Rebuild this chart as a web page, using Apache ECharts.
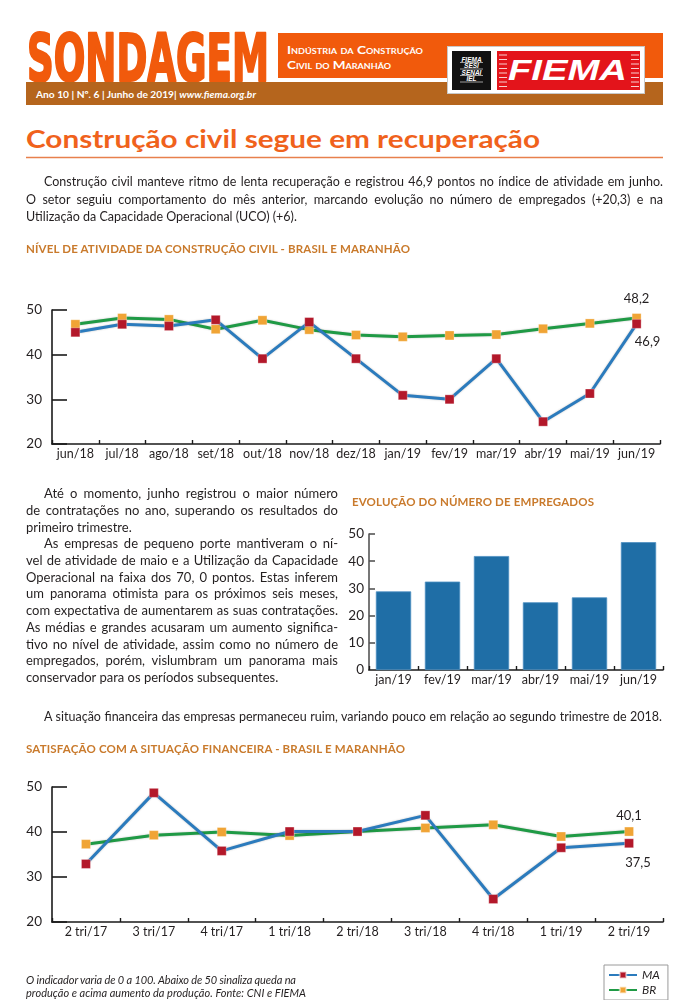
<!DOCTYPE html>
<html><head><meta charset="utf-8">
<script src="https://cdn.jsdelivr.net/npm/echarts@6/dist/echarts.min.js"></script>
<style>
html,body{margin:0;padding:0;background:#fff;}
body{width:684px;height:1000px;position:relative;overflow:hidden;font-family:Lato,'Noto Sans',sans-serif;color:#231f20;}
#hdr{position:absolute;left:0;top:0;z-index:0;}
#chart{position:absolute;left:0;top:0;width:684px;height:1000px;z-index:1;}
.t{position:absolute;white-space:nowrap;line-height:16px;z-index:2;}
.p1{font-size:12.5px;}
.pc{font-size:13px;}
.h{font-size:11.5px;font-weight:700;color:#c97a2c;}
.fn{font-size:11px;font-style:italic;line-height:13px;}
</style></head>
<body>
<svg id="hdr" width="684" height="170" xmlns="http://www.w3.org/2000/svg">
  <text x="27" y="80.5" font-family="DejaVu Sans Condensed" font-weight="bold" font-size="65" fill="#f15a0c" stroke="#f15a0c" stroke-width="2.2" stroke-linejoin="round" textLength="242" lengthAdjust="spacingAndGlyphs">SONDAGEM</text>
  <rect x="278" y="33" width="385" height="45" fill="#f15a0c"/>
  <rect x="26" y="82" width="637" height="23" fill="#b5651d"/>
  <text x="287" y="54" font-family="Lato" font-weight="bold" font-size="12" fill="#fff" style="font-variant:small-caps" textLength="136" lengthAdjust="spacingAndGlyphs">Indústria da Construção</text>
  <text x="287" y="69" font-family="Lato" font-weight="bold" font-size="12" fill="#fff" style="font-variant:small-caps" textLength="104" lengthAdjust="spacingAndGlyphs">Civil do Maranhão</text>
  <text x="36" y="98" font-family="Lato" font-weight="bold" font-size="10" fill="#fff" textLength="220" lengthAdjust="spacingAndGlyphs">Ano 10 | Nº. 6 | Junho de 2019| <tspan font-style="italic">www.fiema.org.br</tspan></text>
  <rect x="447.5" y="46.5" width="197" height="47" fill="#fff" stroke="#c8c8c8"/>
  <rect x="452" y="51" width="39" height="39" fill="#111"/>
  <g font-family="Liberation Sans" font-weight="bold" font-style="italic" font-size="6.5" fill="#fff" text-anchor="middle">
    <text x="471.5" y="61.5">FIEMA</text>
    <text x="471.5" y="68">SESI</text>
    <text x="471.5" y="74.5">SENAI</text>
    <text x="471.5" y="81">IEL</text>
  </g>
  <g stroke="#fff" stroke-width="0.6">
    <line x1="460" y1="62.5" x2="483" y2="62.5"/><line x1="460" y1="69" x2="483" y2="69"/>
    <line x1="460" y1="75.5" x2="483" y2="75.5"/><line x1="460" y1="82" x2="483" y2="82"/>
  </g>
  <rect x="497" y="51" width="143" height="39" fill="#e3141b"/>
  <g stroke="#fff" stroke-width="0.8">
    <line x1="499" y1="55" x2="507" y2="55"/><line x1="499" y1="59.5" x2="507" y2="59.5"/><line x1="499" y1="64" x2="507" y2="64"/>
    <line x1="499" y1="68.5" x2="507" y2="68.5"/><line x1="499" y1="73" x2="507" y2="73"/><line x1="499" y1="77.5" x2="507" y2="77.5"/>
    <line x1="499" y1="82" x2="507" y2="82"/><line x1="499" y1="86.5" x2="507" y2="86.5"/>
    <line x1="631" y1="55" x2="639" y2="55"/><line x1="631" y1="59.5" x2="639" y2="59.5"/><line x1="631" y1="64" x2="639" y2="64"/>
    <line x1="631" y1="68.5" x2="639" y2="68.5"/><line x1="631" y1="73" x2="639" y2="73"/><line x1="631" y1="77.5" x2="639" y2="77.5"/>
    <line x1="631" y1="82" x2="639" y2="82"/><line x1="631" y1="86.5" x2="639" y2="86.5"/>
  </g>
  <text x="508" y="80" font-family="Liberation Sans" font-weight="bold" font-style="italic" font-size="29" fill="#fff" textLength="119" lengthAdjust="spacingAndGlyphs">FIEMA</text>
  <text x="26" y="148" font-family="Lato" font-weight="bold" font-size="24.5" fill="#f0621c" textLength="514" lengthAdjust="spacingAndGlyphs">Construção civil segue em recuperação</text>
  <line x1="26" y1="157.5" x2="663" y2="157.5" stroke="#e8804c" stroke-width="1.6"/>
</svg>

<div id="chart"></div>

<div class="t p1" style="left:44px;top:174px" data-w="619">Construção civil manteve ritmo de lenta recuperação e registrou 46,9 pontos no índice de atividade em junho.</div>
<div class="t p1" style="left:26px;top:191.5px" data-w="637">O setor seguiu comportamento do mês anterior, marcando evolução no número de empregados (+20,3) e na</div>
<div class="t p1" style="left:26px;top:209px">Utilização da Capacidade Operacional (UCO) (+6).</div>

<div class="t h" style="left:26px;top:241px" data-w="384" data-m="l">NÍVEL DE ATIVIDADE DA CONSTRUÇÃO CIVIL - BRASIL E MARANHÃO</div>

<div class="t pc" style="left:44px;top:485px" data-w="294">Até o momento, junho registrou o maior número</div>
<div class="t pc" style="left:26px;top:501.7px" data-w="312">de contratações no ano, superando os resultados do</div>
<div class="t pc" style="left:26px;top:518.5px">primeiro trimestre.</div>
<div class="t pc" style="left:44px;top:535.2px" data-w="294">As empresas de pequeno porte mantiveram o ní-</div>
<div class="t pc" style="left:26px;top:551.9px" data-w="312">vel de atividade de maio e a Utilização da Capacidade</div>
<div class="t pc" style="left:26px;top:568.7px" data-w="312">Operacional na faixa dos 70, 0 pontos. Estas inferem</div>
<div class="t pc" style="left:26px;top:585.4px" data-w="312">um panorama otimista para os próximos seis meses,</div>
<div class="t pc" style="left:26px;top:602.1px" data-w="312">com expectativa de aumentarem as suas contratações.</div>
<div class="t pc" style="left:26px;top:618.8px" data-w="312">As médias e grandes acusaram um aumento significa-</div>
<div class="t pc" style="left:26px;top:635.6px" data-w="312">tivo no nível de atividade, assim como no número de</div>
<div class="t pc" style="left:26px;top:652.3px" data-w="312">empregados, porém, vislumbram um panorama mais</div>
<div class="t pc" style="left:26px;top:669px">conservador para os períodos subsequentes.</div>

<div class="t h" style="left:352px;top:494px" data-w="242" data-m="l">EVOLUÇÃO DO NÚMERO DE EMPREGADOS</div>

<div class="t p1" style="left:44px;top:709px" data-w="618">A situação financeira das empresas permaneceu ruim, variando pouco em relação ao segundo trimestre de 2018.</div>

<div class="t h" style="left:26px;top:741px" data-w="379" data-m="l">SATISFAÇÃO COM A SITUAÇÃO FINANCEIRA - BRASIL E MARANHÃO</div>

<div class="t fn" style="left:26px;top:973px" data-w="270" data-m="l">O indicador varia de 0 a 100. Abaixo de 50 sinaliza queda na</div>
<div class="t fn" style="left:26px;top:986px" data-w="280" data-m="l">produção e acima aumento da produção. Fonte: CNI e FIEMA</div>

<script>
// ---- Data ----
const months1 = ['jun/18','jul/18','ago/18','set/18','out/18','nov/18','dez/18','jan/19','fev/19','mar/19','abr/19','mai/19','jun/19'];
const ativMA = [45.0, 46.8, 46.4, 47.8, 39.1, 47.3, 39.1, 30.9, 30.0, 39.1, 25.0, 31.3, 46.9];
const ativBR = [46.8, 48.2, 47.9, 45.7, 47.7, 45.6, 44.4, 44.0, 44.3, 44.5, 45.8, 47.0, 48.2];

const months2 = ['jan/19','fev/19','mar/19','abr/19','mai/19','jun/19'];
const empregados = [28.9, 32.5, 41.9, 24.9, 26.7, 47.0];

const quarters = ['2 tri/17','3 tri/17','4 tri/17','1 tri/18','2 tri/18','3 tri/18','4 tri/18','1 tri/19','2 tri/19'];
const finMA = [32.9, 48.7, 35.8, 40.1, 40.1, 43.7, 25.1, 36.5, 37.5];
const finBR = [37.3, 39.3, 40.0, 39.2, 40.1, 40.9, 41.6, 39.0, 40.1];

const seriesNames = ['MA', 'BR'];

// ---- Styling ----
const C = {
  maLine: '#2b7bbd', maMark: '#b3182a',
  brLine: '#1f9a45', brMark: '#f0a435',
  bar: '#1f6ea6', axis: '#1a1a1a', text: '#231f20'
};
const FONT = 'Lato';

function fitText() {
  document.querySelectorAll('[data-w]').forEach(el => {
    const target = +el.dataset.w;
    const nat = el.getBoundingClientRect().width;
    const txt = el.textContent;
    const spaces = (txt.match(/ /g) || []).length;
    const diff = target - nat;
    if (el.dataset.m !== 'l' && diff >= 0 && spaces) {
      el.style.wordSpacing = (diff / spaces) + 'px';
    } else {
      el.style.letterSpacing = (diff / Math.max(1, txt.length - 1)) + 'px';
    }
  });
}

function lastLabel(arr, lbl) {
  return arr.map((v, i) => i === arr.length - 1
    ? { value: v, label: Object.assign({ show: true, color: C.text, fontSize: 13, fontFamily: FONT,
        formatter: p => String(p.value).replace('.', ',') }, lbl) }
    : v);
}

function catAxis(gi, data) {
  return {
    type: 'category', gridIndex: gi, data: data, boundaryGap: true,
    axisLine: { show: true, lineStyle: { color: C.axis, width: 1.6 } },
    axisTick: { show: true, inside: true, length: 4, lineStyle: { color: C.axis, width: 1.4 } },
    axisLabel: { color: C.text, fontSize: 12.5, fontFamily: FONT, margin: 3, interval: 0 },
    splitLine: { show: false }
  };
}
function valAxis(gi, min, max, tickLen, col, margin) {
  return {
    type: 'value', gridIndex: gi, min: min, max: max, interval: 10,
    axisLine: { show: true, lineStyle: { color: col || C.axis, width: 1.6 } },
    axisTick: { show: true, inside: true, length: tickLen, lineStyle: { color: col || C.axis, width: 1.6 } },
    axisLabel: { color: C.text, fontSize: 13.5, fontFamily: FONT, margin: margin },
    splitLine: { show: false }
  };
}
function lineSeries(name, xi, data, lineColor, markColor, lbl, z) {
  return {
    name: name, type: 'line', xAxisIndex: xi, yAxisIndex: xi,
    data: lastLabel(data, lbl), symbol: 'rect', symbolSize: 9, z: z,
    lineStyle: { color: lineColor, width: 3, shadowColor: 'rgba(0,0,0,0.25)', shadowBlur: 2 },
    itemStyle: { color: markColor, borderColor: 'rgba(255,255,255,0.5)', borderWidth: 0.6 },
    emphasis: { disabled: true }
  };
}

function draw() {
  fitText();
  const chart = echarts.init(document.getElementById('chart'), null, { renderer: 'canvas' });
  chart.setOption({
    animation: false,
    backgroundColor: 'transparent',
    textStyle: { fontFamily: FONT },
    grid: [
      { left: 52, top: 310, width: 608, height: 134 },
      { left: 369, top: 534, width: 294, height: 136 },
      { left: 52, top: 787, width: 611, height: 135 }
    ],
    xAxis: [catAxis(0, months1), catAxis(1, months2), catAxis(2, quarters)],
    yAxis: [valAxis(0, 20, 50, 15, null, 10), valAxis(1, 0, 50, 6, '#555', 5), valAxis(2, 20, 50, 15, null, 10)],
    legend: {
      data: seriesNames, orient: 'vertical', left: 604, top: 965,
      itemWidth: 28, itemHeight: 8, itemGap: 3, padding: [4, 8, 4, 4],
      borderColor: '#9a9a9a', borderWidth: 1,
      textStyle: { fontStyle: 'italic', fontSize: 12, color: C.text, fontFamily: FONT }
    },
    series: [
      lineSeries('BR', 0, ativBR, C.brLine, C.brMark, { position: 'top', distance: 8 }, 2),
      lineSeries('MA', 0, ativMA, C.maLine, C.maMark, { position: 'bottom', distance: 5, offset: [11, 2] }, 3),
      {
        type: 'bar', name: 'Empregados', xAxisIndex: 1, yAxisIndex: 1, data: empregados,
        barWidth: '72%', itemStyle: { color: C.bar, borderColor: '#4d8fc2', borderWidth: 0.8 },
        emphasis: { disabled: true }
      },
      lineSeries('BR', 2, finBR, C.brLine, C.brMark, { position: 'top', distance: 4 }, 2),
      lineSeries('MA', 2, finMA, C.maLine, C.maMark, { position: 'bottom', distance: 5, offset: [9, 3] }, 3)
    ]
  });
}
if (document.fonts && document.fonts.ready) { document.fonts.ready.then(draw); } else { draw(); }
</script>
</body></html>
